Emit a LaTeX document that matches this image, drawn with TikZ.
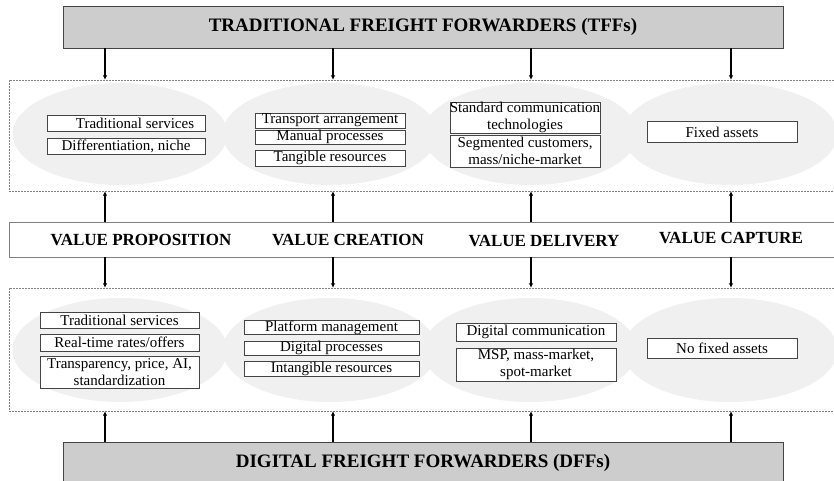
\documentclass[tikz,border=0pt]{standalone}
\usepackage{fontspec}
\setmainfont{Liberation Serif}
\usetikzlibrary{shapes.geometric,arrows.meta}
\definecolor{headgray}{HTML}{CDCDCD}
\definecolor{ovalgray}{HTML}{F0F0F0}
\definecolor{linegray}{HTML}{444444}
\begin{document}
\begin{tikzpicture}[x=1pt, y=-1pt,
        head/.style={draw=linegray, fill=headgray, minimum width=720pt, minimum height=42pt, inner sep=0pt, font=\fontsize{19}{22}\selectfont\bfseries},
        zone/.style={draw=gray, dash pattern=on 2pt off 1pt, minimum width=831pt, inner sep=0pt},
        oval/.style={ellipse, fill=ovalgray, minimum width=215pt, inner sep=0pt},
        item/.style={draw=linegray, fill=white, inner sep=0pt, align=center, font=\fontsize{15}{16.7}\selectfont},
        val/.style={font=\fontsize{17}{20}\selectfont\bfseries},
        arr/.style={line width=1.3pt, -{Latex[length=4.5pt,width=4.5pt]}}]
    \useasboundingbox (0,0) rectangle (834,481);
    \clip (0,0) rectangle (834,481);
    % forwarders
    \node[head] (tff) at (423,27) {TRADITIONAL FREIGHT FORWARDERS (TFFs)};
    \node[head] (dff) at (423,463) {DIGITAL FREIGHT FORWARDERS (DFFs)};
    % zones
    \node[zone, minimum height=111pt] (up) at (424.5,135.5) {};
    \node[zone, minimum height=123pt] (low) at (424.5,349.5) {};
    \node[draw=gray, fill=white, minimum width=831pt, minimum height=35pt] (band) at (424.5,239.5) {};
    \foreach \x [count=\i] in {120,330,530,730} {
        \node[oval, minimum height=102pt] (uo\i) at (\x,134) {};
        \node[oval, minimum height=104pt] (lo\i) at (\x,350) {};
    }
    % band labels
    \node[val] (vp) at (141,240) {VALUE PROPOSITION};
    \node[val] (vc) at (348,240) {VALUE CREATION};
    \node[val] (vd) at (544,241) {VALUE DELIVERY};
    \node[val] (vcap) at (731,238) {VALUE CAPTURE};
    % TFF items
    \node[item, minimum width=158pt, minimum height=16pt] (ut1) at (126,123) {\hspace{1.2em}Traditional services};
    \node[item, minimum width=158pt, minimum height=16pt] (ut2) at (126,146) {Differentiation, niche};
    \node[item, minimum width=150pt, minimum height=15pt] (uc1) at (330,120.5) {Transport arrangement};
    \node[item, minimum width=150pt, minimum height=14pt] (uc2) at (330,137) {Manual processes};
    \node[item, minimum width=150pt, minimum height=16pt] (uc3) at (330,158) {Tangible resources};
    \node[item, minimum width=150pt, minimum height=31pt] (ud1) at (525,117.5) {Standard communication\\technologies};
    \node[item, minimum width=150pt, minimum height=32pt] (ud2) at (525,151) {Segmented customers,\\mass/niche-market};
    \node[item, minimum width=150pt, minimum height=21pt] (ucap) at (722,132) {Fixed assets};
    % DFF items
    \node[item, minimum width=159pt, minimum height=16pt] (lt1) at (119.5,320) {Traditional services};
    \node[item, minimum width=159pt, minimum height=17pt] (lt2) at (119.5,342.5) {Real-time rates/offers};
    \node[item, minimum width=159pt, minimum height=32pt] (lt3) at (119.5,372) {Transparency, price, AI,\\standardization};
    \node[item, minimum width=175pt, minimum height=14pt] (lc1) at (331.5,327.5) {Platform management};
    \node[item, minimum width=175pt, minimum height=14pt] (lc2) at (331.5,348) {Digital processes};
    \node[item, minimum width=175pt, minimum height=15pt] (lc3) at (331.5,368.5) {Intangible resources};
    \node[item, minimum width=160pt, minimum height=18pt] (ld1) at (536,332) {Digital communication};
    \node[item, minimum width=160pt, minimum height=33pt] (ld2) at (536,364.5) {MSP, mass-market,\\spot-market};
    \node[item, minimum width=150pt, minimum height=20pt] (lcap) at (722,348) {No fixed assets};
    % arrows
    \foreach \x [count=\i] in {105,333,531,731} {
        \coordinate (c\i) at (\x,0);
        \draw[arr] (tff.south -| c\i) -- (up.north -| c\i);
        \draw[arr] (band.north -| c\i) -- (up.south -| c\i);
        \draw[arr] (band.south -| c\i) -- (low.north -| c\i);
        \draw[arr] (dff.north -| c\i) -- (low.south -| c\i);
    }
\end{tikzpicture}
\end{document}
